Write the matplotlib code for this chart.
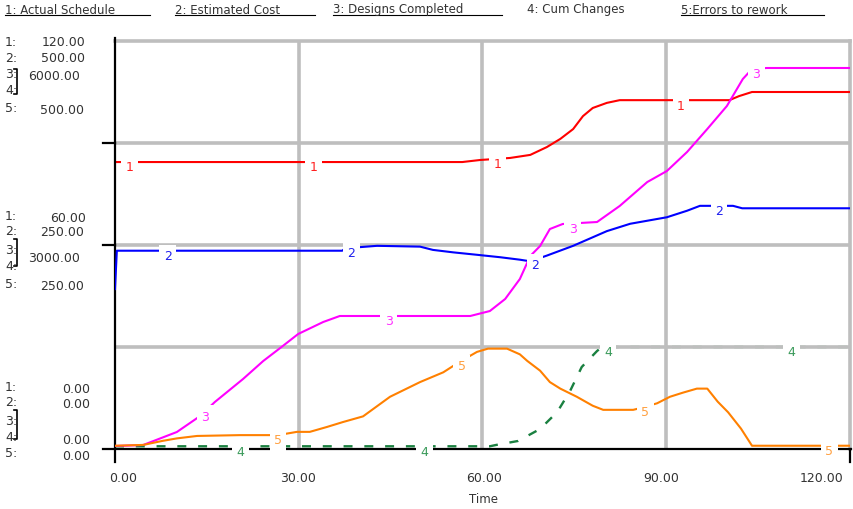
import matplotlib.pyplot as plt
from matplotlib.lines import Line2D
import numpy as np

# ---- series data (time 0..120) ----
t_sched = [0, 56.7, 59.6, 64.5, 67.8, 70.5, 72.7, 74.8, 76.4, 78.0, 80.3, 82.4, 100.3, 101.9, 104.0, 120]
actual_schedule = [84.4, 84.4, 85.0, 85.6, 86.5, 88.8, 91.2, 94.1, 97.9, 100.3, 101.8, 102.6, 102.6, 103.8, 105.0, 105.0]

t_cost = [0, 0.3, 37.1, 37.6, 42.8, 49.8, 51.9, 55.2, 59.1, 62.9, 66.1, 67.8, 70.5, 74.8, 80.3, 84.1,
          90.1, 93.4, 95.5, 100.9, 102.4, 120]
estimated_cost = [196, 243, 243, 246, 249, 248, 244, 241, 238, 235, 232, 230, 237, 249, 267, 276,
                  284, 292, 298, 298, 295, 295]

t_designs = [0, 4.6, 10.1, 13.9, 16.3, 20.9, 24.2, 27.4, 29.9, 34.0, 36.7, 58.0, 61.2, 63.7, 66.1, 67.8,
             69.4, 71.0, 73.1, 78.7, 82.4, 86.9, 90.1, 93.4, 96.7, 99.9, 102.5, 104.0, 106.4, 120]
designs_completed = [44, 59, 250, 485, 691, 1029, 1294, 1515, 1691, 1868, 1956, 1956, 2029, 2206, 2500, 2838,
                     2985, 3235, 3309, 3338, 3574, 3926, 4088, 4368, 4706, 5044, 5441, 5588, 5603, 5603]

t_changes = [0, 61.2, 62.2, 65.8, 69.4, 72.2, 74.3, 76.2, 78.7, 79.5, 120]
cum_changes = [40, 40, 59, 118, 294, 544, 853, 1206, 1441, 1500, 1500]

t_errors = [0, 4.6, 7.8, 10.1, 13.4, 20.4, 26.6, 29.7, 31.8, 34.6, 37.2, 40.5, 44.9, 49.8, 53.6, 56.3,
            59.1, 60.9, 64.0, 66.1, 67.3, 69.4, 71.0, 72.7, 75.4, 78.0, 79.7, 84.6, 85.7, 88.5, 90.6,
            92.7, 95.0, 96.7, 98.4, 100.1, 102.2, 104.0, 120]
errors_to_rework = [4, 5, 10, 13, 16, 17, 17, 21, 21, 27, 33, 40, 64, 82, 94, 107,
                    119, 123, 123, 116, 108, 96, 82, 74, 64, 53, 48, 48, 50, 56, 64,
                    69, 74, 74, 58, 45, 25, 4, 4]

names = ['1: Actual Schedule', '2: Estimated Cost', '3: Designs Completed', '4: Cum Changes', '5:Errors to rework']
x_ticks = [0, 30, 60, 90, 120]
x_tick_labels = ['0.00', '30.00', '60.00', '90.00', '120.00']

W, H = 854, 510
fig = plt.figure(figsize=(W / 100, H / 100), dpi=100)
rect = [115 / W, 60 / H, 735 / W, 408 / H]

txt = '#333333'
grid_c = '#bebebe'

# cum changes sits at the bottom so the grid covers it
ax4 = fig.add_axes(rect, zorder=0)
ax1 = fig.add_axes(rect, zorder=1, sharex=ax4)
ax2 = fig.add_axes(rect, zorder=2, sharex=ax4)
ax3 = fig.add_axes(rect, zorder=3, sharex=ax4)
ax5 = fig.add_axes(rect, zorder=4, sharex=ax4)

ax4.set_ylim(0, 6000)
ax1.set_ylim(0, 120)
ax2.set_ylim(0, 500)
ax3.set_ylim(0, 6000)
ax5.set_ylim(0, 500)
ax4.set_xlim(0, 120)

for a in (ax2, ax3, ax5, ax4):
    a.axis('off')
for a in (ax1, ax2, ax3, ax5):
    a.patch.set_visible(False)

# grid lives on ax1
ax1.set_xticks([30, 60, 90])
ax1.set_yticks([30, 60, 90])
ax1.tick_params(length=0, labelbottom=False, labelleft=False)
ax1.grid(True, color=grid_c, linewidth=2.6)
for s in ('left', 'bottom'):
    ax1.spines[s].set_visible(False)
for s in ('top', 'right'):
    ax1.spines[s].set_color(grid_c)
    ax1.spines[s].set_linewidth(2.6)

# black frame pieces and ticks
k = dict(transform=ax1.transAxes, clip_on=False, color='black', lw=1.6, zorder=5)
ax1.plot([0, 0], [-0.032, 1.007], **k)
ax1.plot([-0.016, 1.001], [0, 0], **k)
ax1.plot([1.0, 1.0], [0, -0.032], **k)
ax1.plot([-0.016, 0], [0.5, 0.5], **k)
ax1.plot([-0.016, 0], [0.75, 0.75], **k)

lw = 1.5
colors = ['#ff0000', '#0000ff', '#ff00ff', '#1a8040', '#ff8000']
label_colors = ['#ff2020', '#2020ee', '#ff30ff', '#3a9a5a', '#ffa040']

ax4.plot(t_changes, cum_changes, color=colors[3], lw=1.7, dashes=(3.8, 5.0), zorder=1)
ax1.plot(t_sched, actual_schedule, color=colors[0], lw=lw, zorder=3)
ax2.plot(t_cost, estimated_cost, color=colors[1], lw=lw)
ax3.plot(t_designs, designs_completed, color=colors[2], lw=lw)
ax5.plot(t_errors, errors_to_rework, color=colors[4], lw=lw)

# numbered markers along each series
series = [(ax1, t_sched, actual_schedule), (ax2, t_cost, estimated_cost),
          (ax3, t_designs, designs_completed), (ax4, t_changes, cum_changes),
          (ax5, t_errors, errors_to_rework)]
first = [2.4, 8.6, 14.7, 20.5, 26.6]
for i, (a, tx, vy) in enumerate(series):
    for j in range(4):
        tt = first[i] + 30 * j
        ax5.annotate(str(i + 1), xy=(tt, np.interp(tt, tx, vy)), xycoords=a.transData,
                     xytext=(0, -3.5), textcoords='offset points', ha='center', va='center',
                     fontsize=9, color=label_colors[i], zorder=10,
                     bbox=dict(boxstyle='square,pad=0.35', fc='white', ec='none'))

# x tick labels and title
fs = 9
xpos = [123, 298, 484, 661, 822]
for xp, lab in zip(xpos, x_tick_labels):
    fig.text(xp / W, 1 - 479 / H, lab, ha='center', va='center', fontsize=fs, color=txt)
fig.text(484 / W, 1 - 500 / H, 'Time', ha='center', va='center', fontsize=8.5, color=txt)

# legend across the top
leg_x = [5, 175, 333, 527, 681]
leg_end = [150, 315, 502, None, 824]
for xs, xe, nm in zip(leg_x, leg_end, names):
    fig.text(xs / W, 1 - 10 / H, nm, ha='left', va='center', fontsize=8.5, color=txt)
    if xe is not None:
        fig.add_artist(Line2D([xs / W, xe / W], [1 - 16 / H] * 2, transform=fig.transFigure,
                              color='black', lw=0.8))

# scale readouts on the left
blocks = [
    (['120.00', '500.00', '6000.00', '500.00'], [43, 59, 77, 110], [85, 85, 80, 84], [42, 58, 75, 90, 108], (70, 95)),
    (['60.00', '250.00', '3000.00', '250.00'], [218, 233, 258, 286], [86, 84, 80, 84], [216, 232, 250, 266, 284], (240, 267)),
    (['0.00', '0.00', '0.00', '0.00'], [390, 405, 440, 456], [90, 90, 90, 90], [388, 403, 422, 438, 454], (411, 440)),
]
for vals, vy, vx, ny, br in blocks:
    for n, y in enumerate(ny):
        fig.text(5 / W, 1 - y / H, '%d:' % (n + 1), ha='left', va='center', fontsize=fs, color=txt)
    for v, y, x in zip(vals, vy, vx):
        fig.text(x / W, 1 - y / H, v, ha='right', va='center', fontsize=fs, color=txt)
    y0, y1 = br
    fig.add_artist(Line2D([14 / W, 17 / W, 17 / W, 14 / W],
                          [1 - y0 / H, 1 - y0 / H, 1 - y1 / H, 1 - y1 / H],
                          transform=fig.transFigure, color='black', lw=1.2))

fig.savefig('out.png', dpi=100)
